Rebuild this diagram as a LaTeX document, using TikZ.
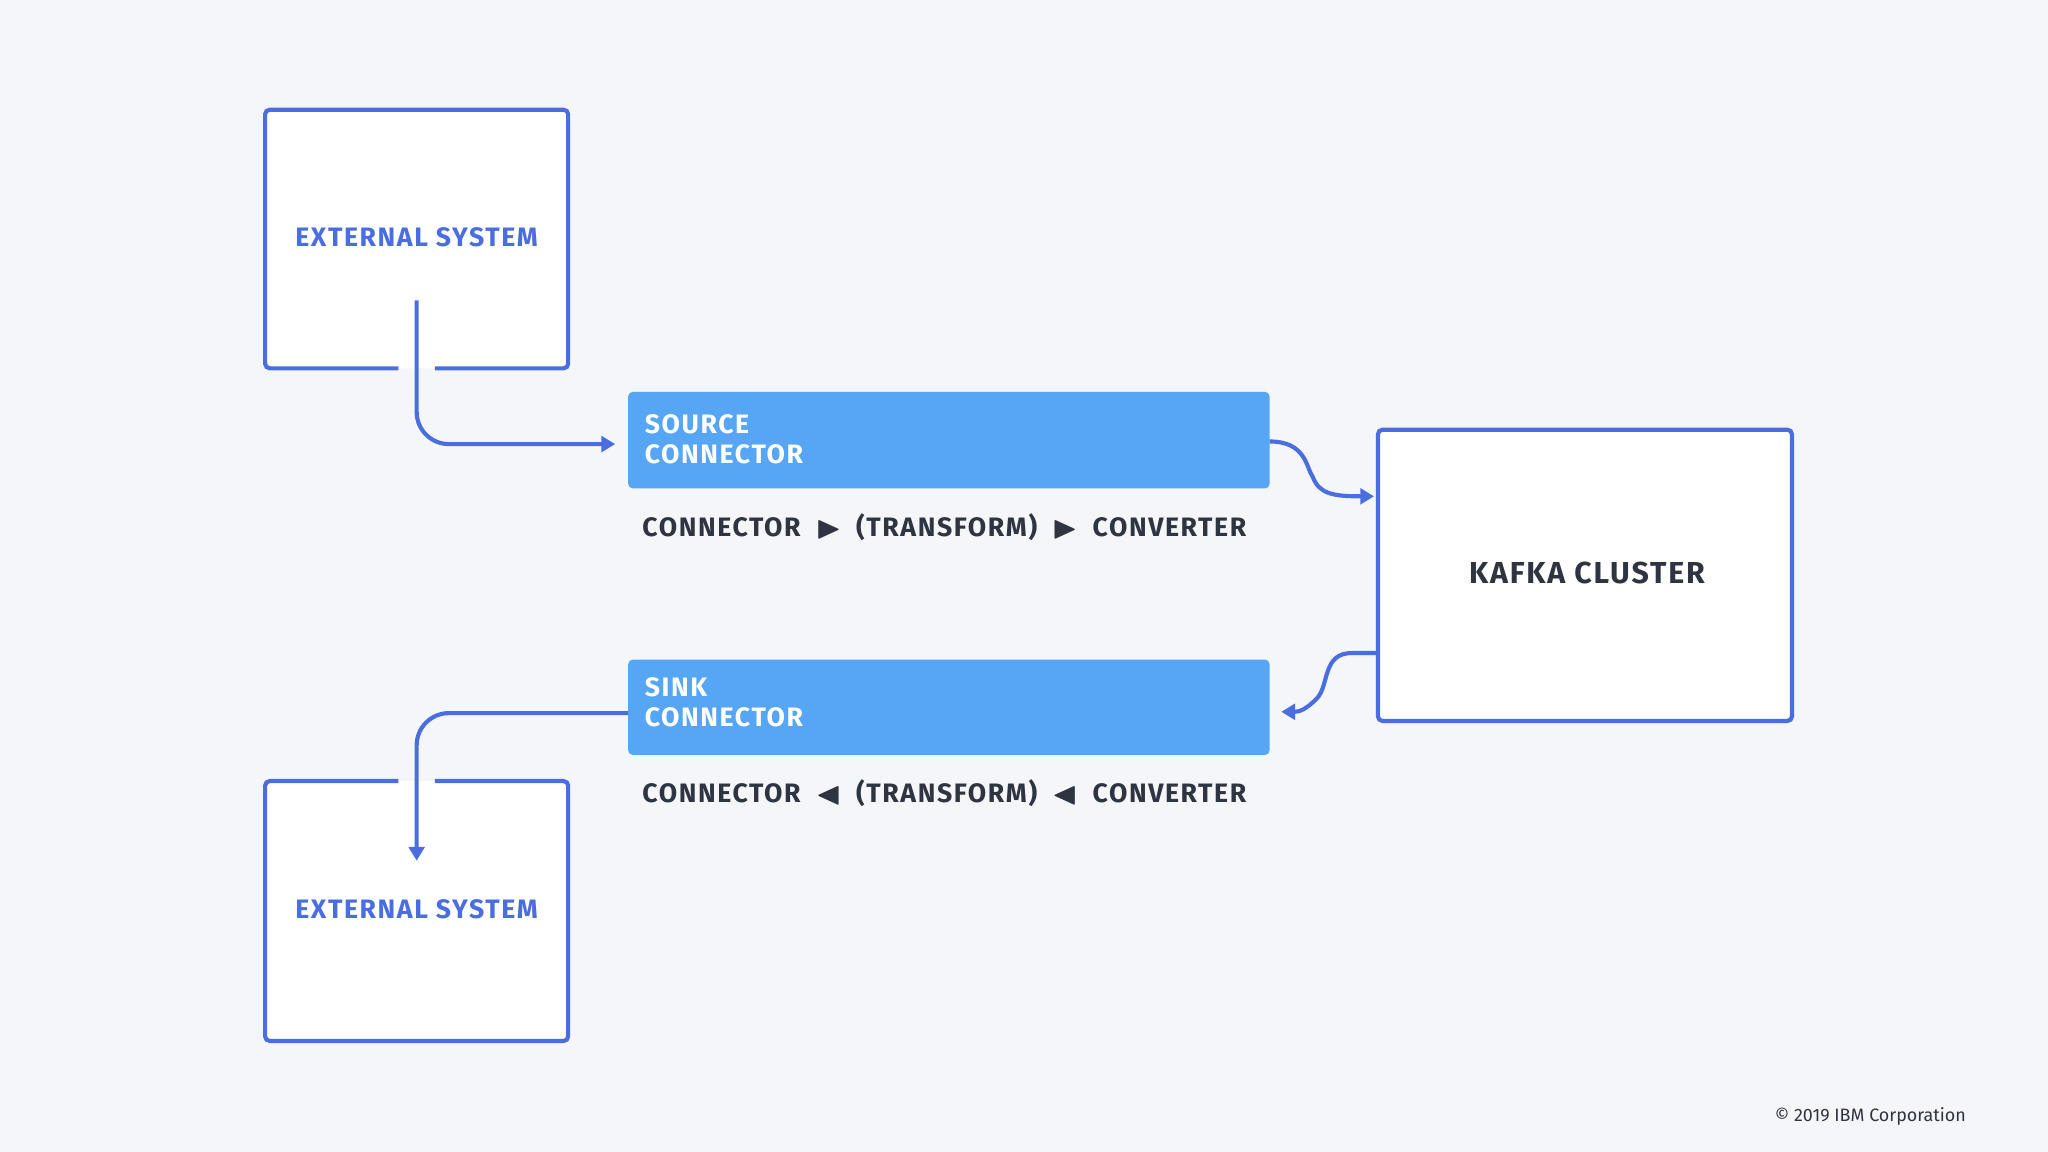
\documentclass[tikz,border=0pt]{standalone}
\usepackage{amssymb}
\usepackage{fontspec}
\setmainfont{Fira Sans}
\newfontfamily\spaced[LetterSpace=6]{Fira Sans}
\usetikzlibrary{arrows.meta}
\definecolor{bg}{HTML}{F4F6FA}
\definecolor{bl}{HTML}{4A6EE0}
\definecolor{cb}{HTML}{56A6F5}
\definecolor{dk}{HTML}{2E3440}
\begin{document}
\begin{tikzpicture}[x=0.01cm,y=-0.01cm,
  box/.style={draw=bl,line width=0.9pt,fill=white,rounded corners=1pt},
  con/.style={fill=cb,rounded corners=1pt},
  arr/.style={draw=bl,line width=0.9pt,-{Triangle[length=3pt,width=3.4pt]}},
  lbl/.style={font=\spaced\fontsize{5.8}{7}\selectfont\bfseries},
  ctext/.style={lbl,text=white,align=left,anchor=west,inner sep=0pt}]
\useasboundingbox[fill=bg] (0,0) rectangle (1568,882);
% external top
\fill[white,rounded corners=1pt] (203,84) rectangle (435,282);
\draw[bl,line width=0.9pt,rounded corners=1pt] (305,282) -- (203,282) -- (203,84) -- (435,84) -- (435,282) -- (333,282);
\node[lbl,text=bl] (t1) at (319,182) {EXTERNAL SYSTEM};
% external bottom
\fill[white,rounded corners=1pt] (203,598) rectangle (435,797);
\draw[bl,line width=0.9pt,rounded corners=1pt] (305,598) -- (203,598) -- (203,797) -- (435,797) -- (435,598) -- (333,598);
\node[lbl,text=bl] (t2) at (319,696) {EXTERNAL SYSTEM};
% kafka
\draw[box] (1055,329) rectangle (1372,552);
\node[font=\spaced\fontsize{6.6}{8}\selectfont\bfseries,text=dk] (kafka) at (1215,439) {KAFKA CLUSTER};
% connectors
\fill[con] (481,300) rectangle (972,374);
\node[ctext] (src) at (493,336) {SOURCE\\[-0.5pt]CONNECTOR};
\fill[con] (481,505) rectangle (972,578);
\node[ctext] (snk) at (493,538) {SINK\\[-0.5pt]CONNECTOR};
% chain rows
\node[lbl,text=dk] (row1) at (723,404) {CONNECTOR\enspace$\blacktriangleright$\enspace(TRANSFORM)\enspace$\blacktriangleright$\enspace CONVERTER};
\node[lbl,text=dk] (row2) at (723,607) {CONNECTOR\enspace$\blacktriangleleft$\enspace(TRANSFORM)\enspace$\blacktriangleleft$\enspace CONVERTER};
% arrows
\coordinate (a0) at (319,230);
\coordinate (a1) at (471,340);
\draw[arr,rounded corners=7pt] (a0) -- (319,340) -- (a1);
\coordinate (b0) at (972,338);
\coordinate (b1) at (1052,380);
\draw[arr] (b0) .. controls (1000,338) and (1000,358) .. (1005,365) .. controls (1010,378) and (1020,380) .. (b1);
\coordinate (c0) at (1055,500);
\coordinate (c1) at (981,545);
\draw[arr] (c0) -- (1035,500) .. controls (1012,500) and (1018,525) .. (1008,535) .. controls (1000,543) and (995,545) .. (c1);
\coordinate (d0) at (481,546);
\coordinate (d1) at (319,659);
\draw[arr,rounded corners=7pt] (d0) -- (319,546) -- (d1);
\node[font=\fontsize{3.9}{5}\selectfont,text=dk] (copy) at (1432,855) {© 2019 IBM Corporation};
\end{tikzpicture}
\end{document}
